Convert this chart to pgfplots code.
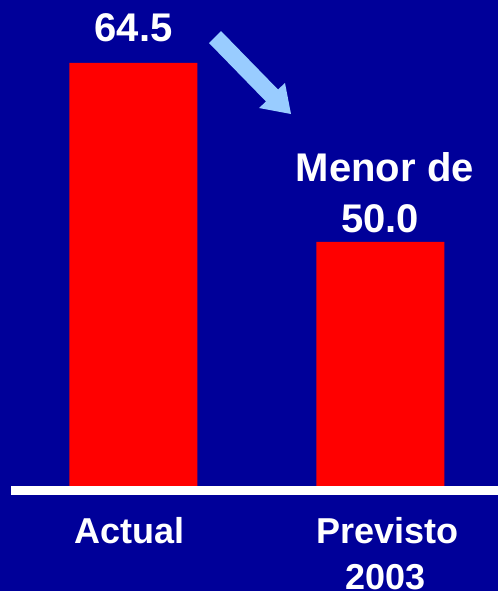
\documentclass[border=0pt]{standalone}
\usepackage{fontspec}
\setmainfont{Liberation Sans}
\usepackage{pgfplots}
\pgfplotsset{compat=1.18}
\definecolor{bgblue}{RGB}{0,0,153}
\definecolor{barred}{RGB}{255,0,0}
\definecolor{arrowblue}{RGB}{153,204,255}
\begin{document}
\begin{tikzpicture}
\fill[bgblue] (0,0) rectangle (249pt,295.5pt);
\begin{axis}[
  at={(5.5pt,50.25pt)}, anchor=south west,
  scale only axis, width=243.5pt, height=245.25pt,
  xmin=-0.496, xmax=1.476, ymin=29.87, ymax=69.6,
  axis x line=bottom, axis y line=none,
  x axis line style={-, white, line width=4.5pt},
  axis on top,
  ybar, bar width=64pt,
  xtick={0,1}, xticklabels={{\hspace*{-3.5pt}Actual},{\hspace*{7.5pt}Previsto\\\hspace*{5.5pt}2003}},
  major tick length=0pt,
  xticklabel style={align=center, anchor=north, inner sep=0pt, yshift=-13.3pt,
    text=white, font=\fontsize{18}{23}\selectfont\bfseries},
  ytick=\empty,
]
\addplot[fill=barred, draw=none] coordinates {(0,64.5) (1,50.0)};
\node[anchor=base, text=white, font=\fontsize{20}{23}\selectfont\bfseries, inner sep=0pt] at (axis cs:0,66.2) {64.5};
\node[anchor=base, text=white, font=\fontsize{20}{23}\selectfont\bfseries, inner sep=0pt] at (axis cs:1.018,54.86) {Menor de};
\node[anchor=base, text=white, font=\fontsize{20}{23}\selectfont\bfseries, inner sep=0pt] at (axis cs:0.998,50.73) {50.0};
\end{axis}
\fill[arrowblue] (104.5pt,274pt) -- (110.5pt,280pt) -- (139pt,250.75pt) -- (142.5pt,254pt) -- (145.5pt,238.5pt) -- (129.5pt,241.5pt) -- (133pt,244.75pt) -- cycle;
\pgfresetboundingbox
\useasboundingbox (0,0) rectangle (249pt,295.5pt);
\end{tikzpicture}
\end{document}
